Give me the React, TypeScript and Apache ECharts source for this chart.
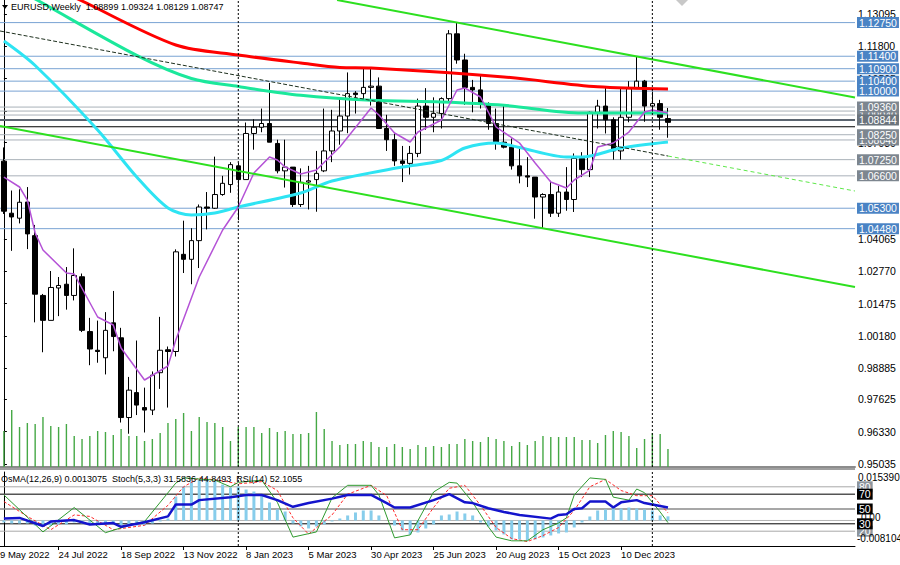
import React, { useEffect, useRef } from "react";
import * as echarts from "echarts";

const FONT = "'Liberation Sans', Arial, sans-serif";
const BASE_DATE = Date.UTC(2022, 5, 5); // first weekly bar
const MONTHS = ["Jan", "Feb", "Mar", "Apr", "May", "Jun", "Jul", "Aug", "Sep", "Oct", "Nov", "Dec"];

// weekly bars: [open, close, low, high]
const ohlc: number[][] = [
  [1.0719, 1.0518, 1.0507, 1.0774], [1.0510, 1.0495, 1.0359, 1.0601], [1.0490, 1.0554, 1.0469, 1.0606],
  [1.0555, 1.0427, 1.0366, 1.0615], [1.0420, 1.0185, 1.0072, 1.0463], [1.0180, 1.0080, 0.9952, 1.0186],
  [1.0080, 1.0212, 1.0080, 1.0278], [1.0210, 1.0220, 1.0097, 1.0254], [1.0225, 1.0180, 1.0123, 1.0294],
  [1.0180, 1.0260, 1.0160, 1.0369], [1.0255, 1.0040, 1.0033, 1.0268], [1.0035, 0.9965, 0.9900, 1.0090],
  [0.9960, 0.9955, 0.9910, 1.0079], [0.9930, 1.0040, 0.9863, 1.0113], [1.0070, 1.0015, 0.9956, 1.0198],
  [1.0010, 0.9690, 0.9670, 1.0050], [0.9690, 0.9800, 0.9625, 0.9853], [0.9790, 0.9740, 0.9700, 0.9999],
  [0.9730, 0.9720, 0.9630, 0.9810], [0.9720, 0.9860, 0.9700, 0.9875], [0.9870, 0.9960, 0.9805, 1.0094],
  [0.9962, 0.9955, 0.9730, 0.9975], [0.9955, 1.0355, 0.9935, 1.0365], [1.0345, 1.0325, 1.0270, 1.0480],
  [1.0325, 1.0400, 1.0225, 1.0450], [1.0400, 1.0535, 1.0290, 1.0545], [1.0535, 1.0530, 1.0445, 1.0595],
  [1.0530, 1.0585, 1.0527, 1.0737], [1.0585, 1.0630, 1.0580, 1.0660], [1.0625, 1.0705, 1.0592, 1.0715],
  [1.0700, 1.0645, 1.0482, 1.0713], [1.0645, 1.0830, 1.0645, 1.0874], [1.0830, 1.0855, 1.0765, 1.0887],
  [1.0855, 1.0870, 1.0835, 1.0930], [1.0870, 1.0795, 1.0795, 1.1033], [1.0790, 1.0680, 1.0670, 1.0805],
  [1.0680, 1.0695, 1.0613, 1.0805], [1.0695, 1.0545, 1.0535, 1.0695], [1.0545, 1.0634, 1.0535, 1.0690],
  [1.0635, 1.0640, 1.0525, 1.0700], [1.0645, 1.0670, 1.0516, 1.0760], [1.0680, 1.0760, 1.0675, 1.0930],
  [1.0760, 1.0840, 1.0715, 1.0925], [1.0840, 1.0900, 1.0785, 1.0973], [1.0900, 1.0990, 1.0831, 1.1075],
  [1.0992, 1.0986, 1.0910, 1.1000], [1.0990, 1.1015, 1.0965, 1.1095], [1.1015, 1.1020, 1.0942, 1.1092],
  [1.1020, 1.0850, 1.0850, 1.1055], [1.0850, 1.0805, 1.0760, 1.0905], [1.0805, 1.0720, 1.0700, 1.0830],
  [1.0720, 1.0710, 1.0635, 1.0780], [1.0710, 1.0750, 1.0665, 1.0780], [1.0750, 1.0940, 1.0735, 1.0970],
  [1.0940, 1.0895, 1.0845, 1.1012], [1.0895, 1.0910, 1.0835, 1.0975], [1.0910, 1.0970, 1.0850, 1.0975],
  [1.0970, 1.1230, 1.0960, 1.1245], [1.1230, 1.1125, 1.1110, 1.1275], [1.1125, 1.1015, 1.0945, 1.1150],
  [1.1015, 1.1005, 1.0915, 1.1045], [1.1005, 1.0950, 1.0930, 1.1065], [1.0950, 1.0870, 1.0845, 1.0955],
  [1.0870, 1.0795, 1.0765, 1.0930], [1.0795, 1.0775, 1.0770, 1.0945], [1.0775, 1.0700, 1.0685, 1.0810],
  [1.0700, 1.0660, 1.0630, 1.0770], [1.0660, 1.0655, 1.0615, 1.0735], [1.0655, 1.0575, 1.0488, 1.0655],
  [1.0575, 1.0585, 1.0448, 1.0590], [1.0585, 1.0510, 1.0495, 1.0640], [1.0510, 1.0595, 1.0495, 1.0620],
  [1.0595, 1.0565, 1.0520, 1.0695], [1.0565, 1.0730, 1.0515, 1.0750], [1.0730, 1.0685, 1.0655, 1.0755],
  [1.0685, 1.0915, 1.0655, 1.0918], [1.0915, 1.0940, 1.0850, 1.0965], [1.0940, 1.0885, 1.0830, 1.1015],
  [1.0885, 1.0760, 1.0725, 1.0895], [1.0760, 1.0895, 1.0725, 1.1010], [1.0895, 1.1010, 1.0875, 1.1040],
  [1.1010, 1.1040, 1.1010, 1.1140], [1.1040, 1.0940, 1.0877, 1.1045], [1.0940, 1.0950, 1.0910, 1.0998],
  [1.0950, 1.0895, 1.0845, 1.0965], [1.08899, 1.08747, 1.08129, 1.09324],
];

const volumes = [
  360000, 570000, 400000, 440000, 430000, 500000, 410000, 400000, 430000, 310000,
  280000, 310000, 360000, 350000, 320000, 380000, 310000, 310000, 260000, 280000,
  340000, 440000, 480000, 540000, 360000, 500000, 450000, 440000, 400000, 260000,
  400000, 400000, 400000, 340000, 390000, 350000, 360000, 330000, 330000, 340000,
  550000, 380000, 260000, 220000, 230000, 230000, 260000, 250000, 200000, 200000,
  230000, 200000, 180000, 220000, 200000, 210000, 200000, 230000, 230000, 280000,
  260000, 250000, 300000, 280000, 260000, 210000, 250000, 220000, 260000, 310000,
  300000, 300000, 300000, 300000, 270000, 270000, 240000, 320000, 360000, 350000,
  310000, 190000, 280000, 340000, 330000, 180000,
];

const osma = [
  -0.00063, -0.00095, -0.00095, -0.00095, -0.00159, -0.0019, -0.00159, -0.00127, -0.00127, -0.00063,
  -0.00095, -0.00127, -0.00127, -0.00095, -0.00095, -0.00159, -0.0019, -0.00159, -0.00159, -0.00095,
  -0.00032, 0.00063, 0.00761, 0.01078, 0.01236, 0.013, 0.013, 0.01236, 0.01141, 0.01046,
  0.01078, 0.00983, 0.00919, 0.00824, 0.00571, 0.00349, 0.00285, -0.00095, -0.0019, -0.00254,
  -0.0019, -0.00127, -0.00032, 0.00063, 0.00159, 0.00254, 0.00317, 0.00317, 0.00159, 0.0,
  -0.00159, -0.00317, -0.00444, -0.0038, -0.00254, -0.00127, 0.00159, 0.0019, 0.00285, 0.00222,
  0.00159, -0.00063, -0.0019, -0.00317, -0.00444, -0.00602, -0.00602, -0.00634, -0.00602, -0.00539,
  -0.00476, -0.00412, -0.0038, -0.00222, -0.00063, 0.00127, 0.00317, 0.00349, 0.0038, 0.0038,
  0.00412, 0.0038, 0.00349, 0.00317, 0.00159, 0.00131,
];

// [bar index, value] readings
const rsi = [[0, 37], [2, 38], [5, 27], [6, 33], [9, 35], [11, 29], [14, 31], [15, 26], [18, 32], [21, 40], [22, 56], [24, 56], [25, 62], [29, 66], [31, 69], [33, 69], [35, 62], [37, 53], [39, 58], [42, 64], [44, 69], [47, 69], [49, 58], [50, 52], [52, 52], [55, 62], [57, 70], [59, 59], [60, 58], [62, 51], [64, 46], [66, 42], [70, 37], [71, 42], [72, 43], [73, 50], [74, 51], [75, 60], [77, 60], [78, 52], [79, 59], [81, 62], [82, 58], [83, 56], [85, 52.1]];
const stochMain = [[0, 69], [5, 19], [9, 52], [13, 18], [17, 31], [18, 33], [22, 85], [23, 92], [27, 89], [29, 80], [30, 86], [33, 89], [35, 59], [37, 12], [40, 19], [42, 65], [44, 82], [47, 82], [48, 69], [50, 11], [52, 15], [55, 73], [57, 86], [58, 85], [60, 59], [62, 26], [63, 12], [65, 7], [67, 7], [69, 22], [71, 31], [72, 38], [73, 69], [75, 92], [77, 90], [78, 66], [80, 62], [81, 77], [82, 72], [84, 46], [85, 31.58]];
const stochSignal = [[0, 60], [3, 40], [6, 22], [9, 42], [11, 40], [14, 22], [18, 28], [21, 55], [23, 80], [25, 92], [28, 88], [30, 84], [33, 87], [35, 75], [37, 38], [39, 16], [42, 42], [44, 70], [47, 82], [49, 68], [51, 22], [53, 22], [55, 52], [57, 78], [59, 82], [61, 55], [63, 25], [65, 10], [67, 6], [69, 14], [71, 25], [73, 48], [75, 80], [77, 90], [79, 75], [81, 68], [83, 68], [85, 44.85]];

const maRed = [[0, 1.15102], [10, 1.13617], [22, 1.11851], [30, 1.1145], [38, 1.11128], [43, 1.10948], [47, 1.10928], [64, 1.10567], [76, 1.10173], [85, 1.10085]];
const maGreen = [[0, 1.14379], [4, 1.13697], [17, 1.11434], [24, 1.10506], [30, 1.10185], [38, 1.09832], [47, 1.09631], [56, 1.09563], [64, 1.09431], [74, 1.09122], [85, 1.09122]];
const maCyan = [[0, 1.12011], [4, 1.11028], [12, 1.0844], [17, 1.06553], [21, 1.05309], [24, 1.05028], [27, 1.05108], [30, 1.05349], [38, 1.05911], [42, 1.06393], [51, 1.06955], [56, 1.07216], [59, 1.07717], [63, 1.07918], [66, 1.07737], [72, 1.07356], [74, 1.07356], [79, 1.07717], [85, 1.07958]];
const maPurple = [[0, 1.06553], [2, 1.06152], [3, 1.0563], [4, 1.04306], [5, 1.03624], [8, 1.02701], [9, 1.02661], [12, 1.00935], [14, 1.00614], [15, 0.99691], [18, 0.98406], [21, 0.98968], [22, 1.00012], [25, 1.0254], [28, 1.04426], [30, 1.05349], [32, 1.06714], [34, 1.07356], [35, 1.07236], [36, 1.06955], [38, 1.06674], [40, 1.06834], [43, 1.07757], [47, 1.09322], [48, 1.09042], [50, 1.08319], [52, 1.07958], [53, 1.08359], [56, 1.08841], [58, 1.10045], [59, 1.10125], [61, 1.09764], [63, 1.0856], [66, 1.07918], [68, 1.07115], [70, 1.06353], [72, 1.06112], [73, 1.06433], [75, 1.06834], [76, 1.07757], [78, 1.07918], [80, 1.08359], [82, 1.09162], [83, 1.09242], [85, 1.09122]];

const channelUpper = [[42.64, 1.13657], [108.94, 1.09744]];
const channelLower = [[-0.5, 1.086], [108.94, 1.02139]];
const midLineHist = [[-0.5, 1.12413], [85, 1.07396]];
const midLineProj = [[85, 1.07396], [108.94, 1.05991]];

const blueLevels = [1.1275, 1.114, 1.109, 1.104, 1.1, 1.053, 1.0448];
const grayLevelsHidden = [1.092, 1.0904, 1.0804];
const grayLevels = [1.0936, 1.0825, 1.0725, 1.066];
const darkLevel = 1.08844;
const blackLevel = 1.0857;
const priceTicks = [1.13095, 1.118, 1.10505, 1.0921, 1.0793, 1.0662, 1.05325, 1.04065, 1.0277, 1.01475, 1.0018, 0.98885, 0.97625, 0.9633, 0.95035];
const xTickIdx = [7, 15, 23, 31, 39, 47, 55, 63, 71, 79];
const cutDateLabel = "29 May 2022";
const separatorIdx = [30, 83];
const oscLevels = [80, 20, 70, 50, 30];
const osmaRangeLabels = ["0.015390", "-0.008104"];

const X_MIN = -0.5, X_MAX = 108.94;
const Y_MIN = 0.94915, Y_MAX = 1.13657;
const VOL_MAX = 4670000;
const OSMA_MIN = -0.008104, OSMA_MAX = 0.01539;

const dateLabel = (idx: number) => {
  const d = new Date(BASE_DATE + Math.round(idx) * 7 * 86400000);
  return `${d.getUTCDate()} ${MONTHS[d.getUTCMonth()]} ${d.getUTCFullYear()}`;
};

function hLine(
  xAxisIndex: number, yAxisIndex: number, v: number, lineColor: string, width: number,
  labelText: string | null, boxColor: string | null, textColor = "#fff", z = 1
): any {
  return {
    type: "line", xAxisIndex, yAxisIndex, data: [[X_MIN, v], [X_MAX, v]], showSymbol: false,
    silent: true, z, clip: false,
    lineStyle: { color: lineColor, width, type: "solid" },
    endLabel: labelText
      ? {
          show: true, distance: 2, formatter: labelText,
          backgroundColor: boxColor || "transparent", color: textColor, padding: [0, 2, 0, 2],
          fontSize: 10.5, lineHeight: 11, fontFamily: FONT,
        }
      : { show: false },
  };
}

function vLine(xAxisIndex: number, yAxisIndex: number, x: number, lo: number, hi: number): any {
  return {
    type: "line", xAxisIndex, yAxisIndex, data: [[x, lo], [x, hi]], showSymbol: false, silent: true, z: 5,
    lineStyle: { color: "#000", width: 1, type: [2, 2] },
  };
}

function buildOption(): any {
  const series: any[] = [];
  // horizontal price levels (hidden-label ones first so later boxes cover them)
  grayLevelsHidden.forEach((v) => series.push(hLine(0, 0, v, "#a9b1b9", 1, v.toFixed(5), "#7d868f")));
  blueLevels.forEach((v) => series.push(hLine(0, 0, v, "#79a3d3", 1, v.toFixed(5), "#4a83c4")));
  grayLevels.forEach((v) => series.push(hLine(0, 0, v, "#a9b1b9", 1, v.toFixed(5), "#7d868f")));
  series.push(hLine(0, 0, darkLevel, "#5b6570", 2, darkLevel.toFixed(5), "#6b747d"));
  series.push(hLine(0, 0, blackLevel, "#000", 1, null, null));

  series.push({
    type: "bar", xAxisIndex: 0, yAxisIndex: 1, silent: true, z: 2,
    data: volumes.map((v, i) => [i, v]), barWidth: 1.4,
    itemStyle: { color: "#45a845" },
  });
  series.push({
    type: "candlestick", xAxisIndex: 0, yAxisIndex: 0, silent: true, z: 3, barWidth: 5,
    data: ohlc.map((c, i) => [i, c[0], c[1], c[2], c[3]]),
    itemStyle: { color: "#fff", color0: "#000", borderColor: "#000", borderColor0: "#000", borderWidth: 1 },
  });
  const lineS = (data: number[][], color: string, width: number, smooth: any, type: any = "solid") => ({
    type: "line", xAxisIndex: 0, yAxisIndex: 0, data, showSymbol: false, smooth, z: 4, silent: true,
    lineStyle: { color, width, type },
  });
  series.push(lineS(maRed, "#ff0000", 3, 0.3));
  series.push(lineS(maGreen, "#1be89b", 3, 0.3));
  series.push(lineS(maCyan, "#2ee4f3", 3, 0.3));
  series.push(lineS(maPurple, "#b452d6", 1.5, false));
  series.push(lineS(channelUpper, "#2de01f", 2, false));
  series.push(lineS(channelLower, "#2de01f", 2, false));
  series.push(lineS(midLineHist, "#1e301e", 1, false, [4, 2]));
  series.push(lineS(midLineProj, "#5ee84a", 1, false, [4, 3]));
  separatorIdx.forEach((x) => series.push(vLine(0, 0, x, Y_MIN, Y_MAX)));

  // indicator window
  oscLevels.forEach((v) => {
    const dark = v === 70 || v === 50 || v === 30;
    const lc = v === 30 ? "#000" : v === 70 ? "#555" : v === 50 ? "#8a8a8a" : "#a8a8a8";
    series.push(hLine(1, 2, v, lc, v === 70 || v === 50 ? 1.5 : 1, String(v), dark ? "#000" : "#8d959d"));
  });
  series.push({
    type: "bar", xAxisIndex: 1, yAxisIndex: 3, silent: true, z: 2,
    data: osma.map((v, i) => [i, v]), barWidth: 3,
    itemStyle: { color: "#87cdeb" },
  });
  series.push({
    ...hLine(1, 3, 0, "#b4b4b4", 1, "0.00", null, "#000"),
    z: 0,
    endLabel: { show: true, distance: 6, formatter: "0.00", color: "#000", fontSize: 10, fontFamily: FONT, offset: [0, -3] },
  });
  const oscLine = (data: number[][], color: string, width: number, type: any, z: number) => ({
    type: "line", xAxisIndex: 1, yAxisIndex: 2, data, showSymbol: false, z, silent: true,
    lineStyle: { color, width, type },
  });
  series.push(oscLine(stochSignal, "#ff2a2a", 1, [3, 2], 4));
  series.push(oscLine(stochMain, "#2f9a2f", 1, "solid", 4));
  series.push(oscLine(rsi, "#1414cc", 2.5, "solid", 5));
  separatorIdx.forEach((x) => series.push(vLine(1, 2, x, 0, 100)));

  return {
    animation: false,
    backgroundColor: "#fff",
    textStyle: { fontFamily: FONT },
    grid: [
      { left: 0, top: 0, width: 855, height: 467 },
      { left: 0, top: 472, width: 855, height: 74 },
    ],
    xAxis: [
      {
        gridIndex: 0, type: "value", min: X_MIN, max: X_MAX,
        axisLine: { show: true, onZero: false, lineStyle: { color: "#8c8c8c", width: 2 } },
        axisTick: { show: false }, axisLabel: { show: false }, splitLine: { show: false },
      },
      {
        gridIndex: 1, type: "value", min: X_MIN, max: X_MAX,
        axisLine: { show: true, onZero: false, lineStyle: { color: "#000", width: 1 } },
        axisTick: { show: true, customValues: xTickIdx, length: 4, lineStyle: { color: "#000" } },
        axisLabel: {
          show: true, customValues: xTickIdx, formatter: (v: number) => dateLabel(v),
          align: "left", fontSize: 9.5, color: "#000", margin: 3, fontFamily: FONT,
        },
        splitLine: { show: false },
      },
    ],
    yAxis: [
      {
        gridIndex: 0, type: "value", position: "right", min: Y_MIN, max: Y_MAX,
        axisLine: { show: true, lineStyle: { color: "#000" } },
        axisTick: { show: true, customValues: priceTicks, length: 3, lineStyle: { color: "#000" } },
        axisLabel: {
          show: true, customValues: priceTicks, formatter: (v: number) => v.toFixed(5),
          fontSize: 10.5, color: "#000", margin: 3, fontFamily: FONT,
        },
        splitLine: { show: false },
      },
      { gridIndex: 0, type: "value", min: 0, max: VOL_MAX, show: false, splitLine: { show: false } },
      {
        gridIndex: 1, type: "value", position: "right", min: 0, max: 100,
        axisLine: { show: true, lineStyle: { color: "#000" } },
        axisTick: { show: false }, axisLabel: { show: false }, splitLine: { show: false },
      },
      { gridIndex: 1, type: "value", min: OSMA_MIN, max: OSMA_MAX, show: false, splitLine: { show: false } },
    ],
    series,
    graphic: [
      { type: "rect", z: 90, shape: { x: 0, y: 468, width: 855, height: 2 }, style: { fill: "#a0a0a0" } },
      { type: "polygon", z: 100, shape: { points: [[2, 5], [8, 5], [5, 9]] }, style: { fill: "#000" } },
      {
        type: "text", z: 100, x: 11, y: 7,
        style: { text: "EURUSD,Weekly  1.08899 1.09324 1.08129 1.08747", fill: "#000", font: `9px ${FONT}`, verticalAlign: "middle" },
      },
      { type: "polygon", z: 100, shape: { points: [[676, 0], [688, 0], [682, 6]] }, style: { fill: "#c8c8c8" } },
      {
        type: "text", z: 100, x: 1, y: 479,
        style: { text: "OsMA(12,26,9) 0.0013075  Stoch(5,3,3) 31.5836 44.8493  RSI(14) 52.1055", fill: "#000", font: `9px ${FONT}`, verticalAlign: "middle" },
      },
      { type: "text", z: 100, x: 858, y: 477, style: { text: osmaRangeLabels[0], fill: "#000", font: `10px ${FONT}`, verticalAlign: "middle" } },
      { type: "text", z: 100, x: 857, y: 538, style: { text: osmaRangeLabels[1], fill: "#000", font: `10px ${FONT}`, verticalAlign: "middle" } },
      { type: "text", z: 100, x: -5.3, y: 554, style: { text: cutDateLabel, fill: "#000", font: `9.5px ${FONT}`, verticalAlign: "middle" } },
    ],
  };
}

export default function App() {
  const ref = useRef<HTMLDivElement>(null);
  useEffect(() => {
    if (!ref.current) return;
    const chart = echarts.init(ref.current, null, { renderer: "svg" });
    chart.setOption(buildOption());
    return () => chart.dispose();
  }, []);
  return (
    <div
      ref={ref}
      style={{ position: "fixed", left: 0, top: 0, width: 900, height: 565, background: "#fff" }}
    />
  );
}
